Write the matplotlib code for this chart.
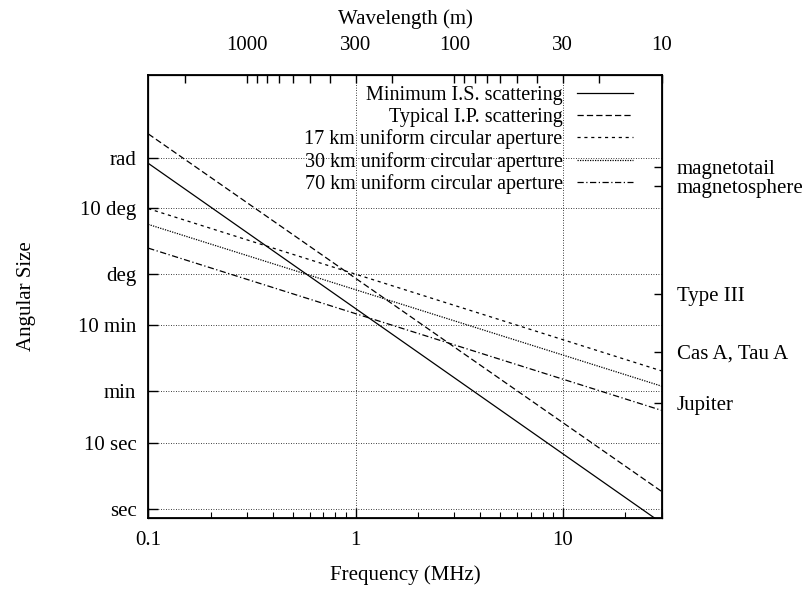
import numpy as np
import matplotlib
matplotlib.use("Agg")
import matplotlib.pyplot as plt

plt.rcParams["font.family"] = ["Liberation Serif", "DejaVu Serif"]

# frequency end points (MHz) of each straight line, angular size in degrees
freq = [0.1, 30]
min_is = [47.0, 1.7e-4]
typical_ip = [131.0, 5.1e-4]
ap17 = [9.7, 0.034]
ap30 = [5.6, 0.020]
ap70 = [2.45, 0.0086]

series_labels = ["Minimum I.S. scattering", "Typical I.P. scattering",
                 "17 km uniform circular aperture", "30 km uniform circular aperture",
                 "70 km uniform circular aperture"]

# left axis ticks (degrees)
y_ticks = [1 / 3600, 10 / 3600, 1 / 60, 10 / 60, 1, 10, 180 / np.pi]
y_labels = ["sec", "10 sec", "min", "10 min", "deg", "10 deg", "rad"]

# right axis: sources (degrees)
src_vals = [41.0, 21.3, 0.5, 4 / 60, 40 / 3600]
src_labels = ["magnetotail", "magnetosphere", "Type III", "Cas A, Tau A", "Jupiter"]

# top axis: wavelength ticks (m)
wl_ticks = [2000, 1000, 900, 800, 700, 600, 500, 400, 300, 200,
            100, 90, 80, 70, 60, 50, 40, 30, 20, 10]
wl_labeled = [1000, 300, 100, 30, 10]

fs = 15

fig = plt.figure(figsize=(8.1, 5.89), dpi=100)
ax = fig.add_axes([0.183, 0.1205, 0.634, 0.7525])

styles = ["-", (0, (5, 2.5)), (0, (2.5, 3)), (0, (1, 1)), (0, (5, 2, 1, 2))]
for ys, lab, ls in zip([min_is, typical_ip, ap17, ap30, ap70], series_labels, styles):
    ax.plot(freq, ys, color="black", lw=0.9, ls=ls, label=lab)

ax.set_xscale("log")
ax.set_yscale("log")
ax.set_xlim(0.1, 30)
ax.set_ylim(0.73 / 3600, 1025)

ax.set_xticks([0.1, 1, 10])
ax.set_xticklabels(["0.1", "1", "10"])
ax.set_yticks(y_ticks)
ax.set_yticklabels(y_labels)
ax.yaxis.set_minor_locator(matplotlib.ticker.NullLocator())
ax.tick_params(which="major", direction="in", length=7, width=1, labelsize=fs)
ax.tick_params(axis="y", pad=8.5)
ax.tick_params(axis="x", pad=9)
ax.tick_params(which="minor", direction="in", length=4, width=0.8)
ax.tick_params(axis="y", right=False)
ax.tick_params(axis="x", top=False)

# dotted grid
for v in [1, 10]:
    ax.axvline(v, color="black", lw=0.6, ls=(0, (1, 2)))
for v in y_ticks:
    ax.axhline(v, color="black", lw=0.6, ls=(0, (1, 2)))

for s in ax.spines.values():
    s.set_linewidth(1.3)

ax.set_xlabel("Frequency (MHz)", fontsize=fs, labelpad=11)
ax.set_ylabel("Angular Size", fontsize=fs, labelpad=30)

# top wavelength axis
ax_top = ax.twiny()
ax_top.set_xscale("log")
ax_top.set_xlim(ax.get_xlim())
ax_top.set_xticks([300 / w for w in wl_ticks])
ax_top.set_xticklabels([str(w) if w in wl_labeled else "" for w in wl_ticks])
ax_top.xaxis.set_minor_locator(matplotlib.ticker.NullLocator())
ax_top.tick_params(direction="in", length=6, width=1, labelsize=fs, pad=14)
ax_top.set_xlabel("Wavelength (m)", fontsize=fs, labelpad=9)

# right sources axis
ax_r = ax.twinx()
ax_r.set_yscale("log")
ax_r.set_ylim(ax.get_ylim())
ax_r.set_yticks(src_vals)
ax_r.set_yticklabels(src_labels)
ax_r.yaxis.set_minor_locator(matplotlib.ticker.NullLocator())
ax_r.tick_params(direction="in", length=6, width=1, labelsize=fs, pad=11)

leg = ax.legend(loc="upper right", frameon=False, markerfirst=False, fontsize=fs - 0.5,
                handlelength=2.8, handletextpad=0.7, labelspacing=0.13,
                borderaxespad=0, bbox_to_anchor=(0.96, 0.993))

fig.savefig("out.png", dpi=100)
